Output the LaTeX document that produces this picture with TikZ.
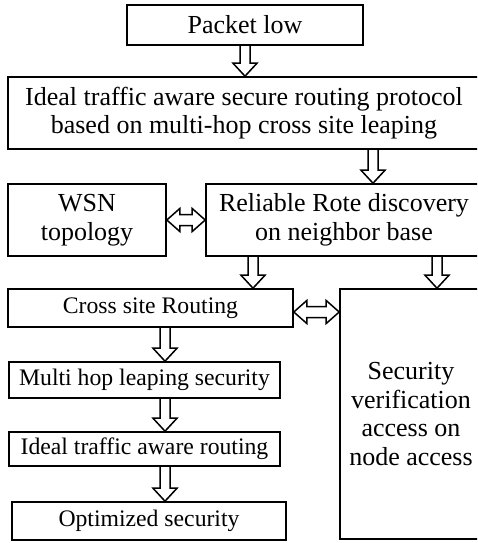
\documentclass[tikz,border=0pt]{standalone}
\usepackage{fontspec}
\setmainfont{Liberation Serif}
\usetikzlibrary{calc}
\newcommand\fbig{\fontsize{26}{28.5}\selectfont}
\newcommand\fsmall{\fontsize{23.7}{26}\selectfont}
\begin{document}
\begin{tikzpicture}[x=1pt,y=-1pt,
  box/.style={draw, line width=1.6pt, inner sep=0pt, align=center, font=\fbig},
  sbox/.style={box, font=\fsmall},
  hdown/.style={draw, line width=1.5pt, line join=miter,
    to path={let \p1=(\tikztostart), \p2=(\tikztotarget) in
      (\x1-5pt,\y1) -- (\x1-5pt,\y2+13pt) -- (\x1-12pt,\y2+13pt) -- (\x1,\y2)
      -- (\x1+12pt,\y2+13pt) -- (\x1+5pt,\y2+13pt) -- (\x1+5pt,\y1)}},
  hdouble/.style={draw, line width=1.5pt, line join=miter,
    to path={let \p1=(\tikztostart), \p2=(\tikztotarget) in
      (\x1,\y1) -- (\x1+13pt,\y1+11.5pt) -- (\x1+13pt,\y1+5.5pt) -- (\x2-13pt,\y1+5.5pt)
      -- (\x2-13pt,\y1+11.5pt) -- (\x2,\y1) -- (\x2-13pt,\y1-11.5pt) -- (\x2-13pt,\y1-5.5pt)
      -- (\x1+13pt,\y1-5.5pt) -- (\x1+13pt,\y1-11.5pt) -- cycle}}
]
\useasboundingbox (0,0) rectangle (477,543);
\clip (0,0) rectangle (477,543);

\node[box, minimum width=236pt, minimum height=40pt] (pkt) at (245,25) {Packet low};
\node[box, minimum width=472pt, minimum height=72pt] (ideal) at (244,113)
  {Ideal traffic aware secure routing protocol\\based on multi-hop cross site leaping};
\node[box, minimum width=158pt, minimum height=72pt] (wsn) at (87,220) {WSN\\topology};
\node[box, minimum width=276pt, minimum height=72pt] (rel) at (344,220)
  {Reliable Rote discovery\\on neighbor base};
\node[sbox, minimum width=285pt, minimum height=38pt] (cross) at (150.5,308) {Cross site Routing};
\node[box, minimum width=142pt, minimum height=250pt] (sec) at (411,414)
  {Security\\verification\\access on\\node access};
\node[sbox, minimum width=271pt, minimum height=36pt] (multi) at (144.5,380) {Multi hop leaping security};
\node[sbox, minimum width=271pt, minimum height=34pt] (itar) at (144.5,449) {Ideal traffic aware routing};
\node[sbox, minimum width=274pt, minimum height=38pt] (opt) at (149,521) {Optimized security};
\coordinate (lc) at (165,0);

\draw[hdown] (pkt.south) to (pkt.south |- ideal.north);
\draw[hdown] ([xshift=29pt]rel.north |- ideal.south) to ([xshift=29pt]rel.north);
\draw[hdouble] (wsn.east) to (rel.west);
\draw[hdown] ([xshift=-91pt]rel.south) to ([xshift=-91pt]rel.south |- cross.north);
\draw[hdown] ([xshift=93pt]rel.south) to ([xshift=93pt]rel.south |- sec.north);
\draw[hdouble] ([yshift=-4pt]cross.east) to ([yshift=-4pt]cross.east -| sec.west);
\draw[hdown] (lc |- cross.south) to (lc |- multi.north);
\draw[hdown] (lc |- multi.south) to (lc |- itar.north);
\draw[hdown] (lc |- itar.south) to (lc |- opt.north);
\end{tikzpicture}
\end{document}
